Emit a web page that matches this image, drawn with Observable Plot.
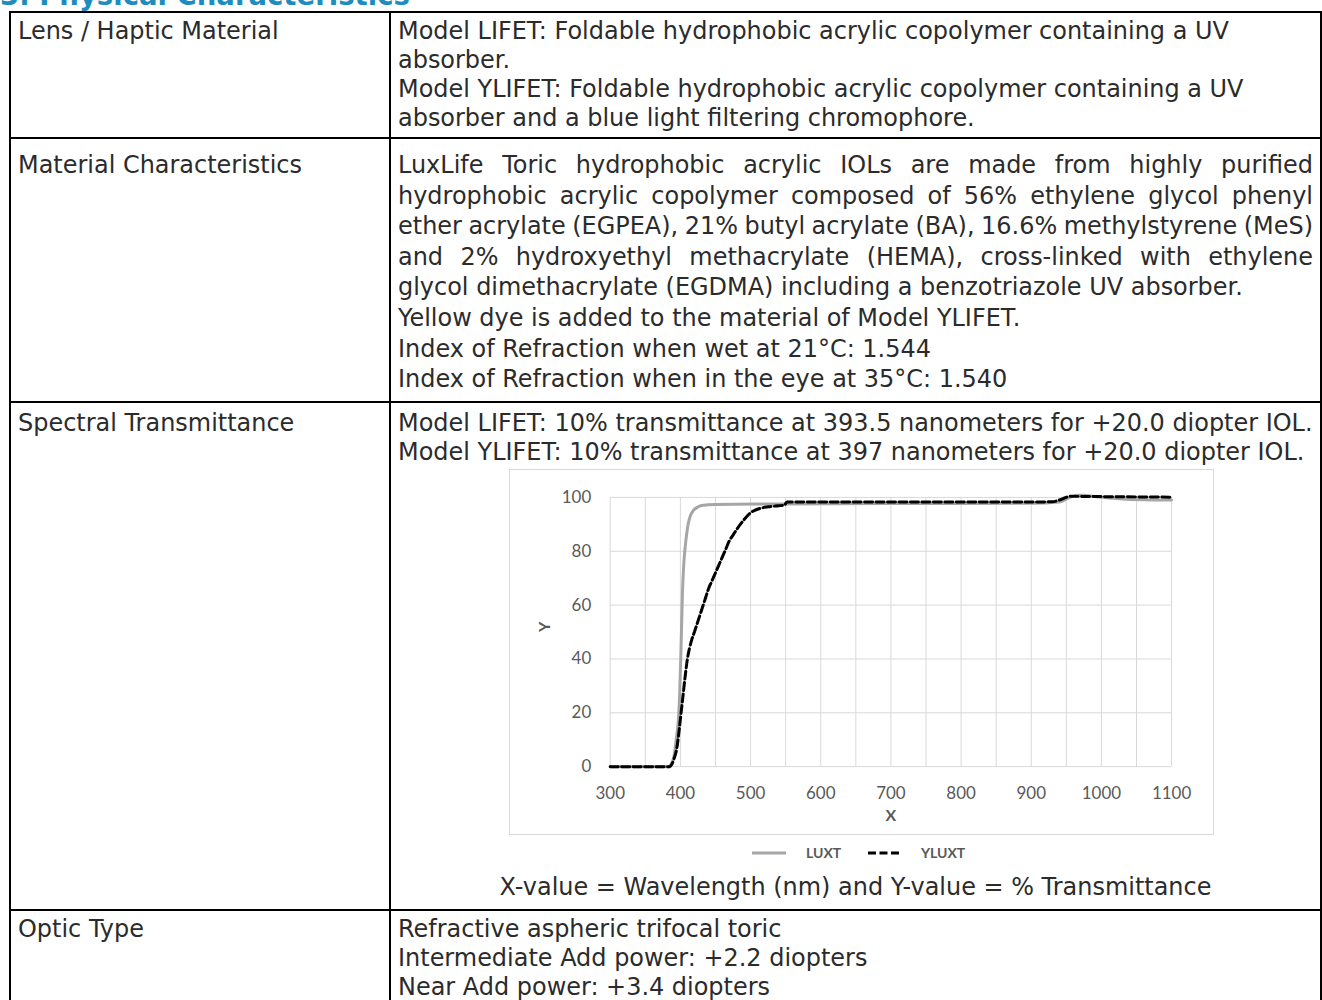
<!DOCTYPE html>
<html>
<head>
<meta charset="utf-8">
<script src="https://cdn.jsdelivr.net/npm/d3@7"></script>
<script src="https://cdn.jsdelivr.net/npm/@observablehq/plot@0.6"></script>
<style>
  html, body { margin: 0; padding: 0; background: #fff; }
  #page { position: relative; width: 1322px; height: 1000px; overflow: hidden; background: #fff; font-family: "DejaVu Sans", sans-serif; color: #2b2b2b; }
  .ln { position: absolute; white-space: nowrap; }
  .rule { position: absolute; background: #000; }
  #chartbox { position: absolute; left: 509px; top: 469px; width: 705px; height: 366px; box-sizing: border-box; border: 1px solid #d9d9d9; }
  #chartbox svg { position: absolute; left: -1px; top: -1px; }
  #legend { position: absolute; left: 0; top: 843px; width: 1322px; height: 20px; font-family: Lato, sans-serif; font-size: 14px; color: #595959; }
</style>
</head>
<body>
<div id="page"></div>
<script>
// ---------- data ----------
const titleText = "3. Physical Characteristics";
const rowLabels = ["Lens / Haptic Material", "Material Characteristics", "Spectral Transmittance", "Optic Type"];
const row1Lines = [
  "Model LIFET: Foldable hydrophobic acrylic copolymer containing a UV",
  "absorber.",
  "Model YLIFET: Foldable hydrophobic acrylic copolymer containing a UV",
  "absorber and a blue light filtering chromophore."
];
const row2Lines = [
  "LuxLife Toric hydrophobic acrylic IOLs are made from highly purified",
  "hydrophobic acrylic copolymer composed of 56% ethylene glycol phenyl",
  "ether acrylate (EGPEA), 21% butyl acrylate (BA), 16.6% methylstyrene (MeS)",
  "and 2% hydroxyethyl methacrylate (HEMA), cross-linked with ethylene",
  "glycol dimethacrylate (EGDMA) including a benzotriazole UV absorber.",
  "Yellow dye is added to the material of Model YLIFET.",
  "Index of Refraction when wet at 21°C: 1.544",
  "Index of Refraction when in the eye at 35°C: 1.540"
];
const row2Justified = [true, true, true, true, false, false, false, false];
const row3Lines = [
  "Model LIFET: 10% transmittance at 393.5 nanometers for +20.0 diopter IOL.",
  "Model YLIFET: 10% transmittance at 397 nanometers for +20.0 diopter IOL."
];
const captionText = "X-value = Wavelength (nm) and Y-value = % Transmittance";
const row4Lines = [
  "Refractive aspheric trifocal toric",
  "Intermediate Add power: +2.2 diopters",
  "Near Add power: +3.4 diopters"
];

const seriesNames = ["LUXT", "YLUXT"];
const wavelengthLUXT = [300, 383, 388, 391, 394, 397, 399, 401, 403, 405, 407, 409, 411, 414, 418, 424, 430, 450, 550, 700, 900, 940, 955, 965, 975, 990, 1020, 1060, 1100];
const transLUXT      = [0, 0, 1.5, 4, 10, 17, 27, 45, 65, 76, 82, 86.5, 90, 93, 95, 96.3, 97, 97.4, 97.6, 97.7, 97.8, 98.3, 100, 100.8, 100.8, 100.3, 99.6, 99.1, 99];
const wavelengthYLUXT = [300, 385, 388, 391, 395, 398, 401, 404, 407, 410, 413, 416, 420, 425, 430, 435, 440, 445, 450, 455, 460, 465, 470, 475, 480, 490, 500, 512, 525, 540, 548, 552, 600, 700, 800, 900, 930, 945, 955, 1000, 1050, 1100];
const transYLUXT      = [0, 0, 1, 3, 7, 13, 20, 27, 34, 40, 44, 47, 50, 54, 58, 62, 66, 69, 72, 75, 78, 81, 84, 86, 88, 91.5, 94.3, 95.8, 96.5, 96.9, 97.1, 98.3, 98.3, 98.3, 98.3, 98.3, 98.4, 99.5, 100.4, 100.3, 100.2, 100.1];
const xTicks = [300, 400, 500, 600, 700, 800, 900, 1000, 1100];
const xGrid = [300, 350, 400, 450, 500, 550, 600, 650, 700, 750, 800, 850, 900, 950, 1000, 1050, 1100];
const yTicks = [0, 20, 40, 60, 80, 100];

// ---------- layout ----------
const page = document.getElementById("page");
const FONT = "'DejaVu Sans'";
const ctx = document.createElement("canvas").getContext("2d");
function measure(t, size, weight) { ctx.font = `${weight || "normal"} ${size}px ${FONT}`; return ctx.measureText(t).width; }
const fs = 100 * 915 / measure(row3Lines[0], 100);
const titleFs = 100 * 410 / measure(titleText, 100, "bold");
const LH = 26;

function addLine(text, x, cy, opts = {}) {
  const d = document.createElement("div");
  d.className = "ln";
  d.textContent = text;
  const size = opts.size || fs;
  d.style.fontSize = size + "px";
  d.style.lineHeight = LH + "px";
  d.style.height = LH + "px";
  d.style.top = (cy - LH / 2) + "px";
  if (opts.center) { d.style.left = opts.left + "px"; d.style.width = opts.width + "px"; d.style.textAlign = "center"; }
  else d.style.left = x + "px";
  if (opts.color) d.style.color = opts.color;
  if (opts.weight) d.style.fontWeight = opts.weight;
  if (opts.justify) {
    const natural = measure(text, size);
    const gaps = text.split(" ").length - 1;
    if (gaps > 0) d.style.wordSpacing = ((opts.justify - natural) / gaps) + "px";
  }
  page.appendChild(d);
  return d;
}
function rule(x, y, w, h) {
  const r = document.createElement("div");
  r.className = "rule";
  Object.assign(r.style, { left: x + "px", top: y + "px", width: w + "px", height: h + "px" });
  page.appendChild(r);
}

// title (cut off by top edge)
addLine(titleText, 0, -5, { size: titleFs, color: "#1E8DBE", weight: "bold" });

// table rules
const LX = 10, CX = 389, RX = 1320;
const rowTops = [12, 138, 402, 910];
rowTops.forEach(y => rule(LX, y - 1, RX - LX + 2, 2));
rule(LX - 1, 11, 2, 1000);
rule(CX, 11, 2, 1000);
rule(RX, 11, 2, 1000);

const TX_L = 18, TX_R = 398;
// row 1
addLine(rowLabels[0], TX_L, 31);
row1Lines.forEach((t, i) => addLine(t, TX_R, 31 + i * 29));
// row 2
addLine(rowLabels[1], TX_L, 165);
row2Lines.forEach((t, i) => addLine(t, TX_R, 165 + i * 30.6, row2Justified[i] ? { justify: 915 } : {}));
// row 3
addLine(rowLabels[2], TX_L, 423);
row3Lines.forEach((t, i) => addLine(t, TX_R, 423 + i * 29));
addLine(captionText, 0, 887, { center: true, left: CX + 2, width: RX - CX - 2 });
// row 4
addLine(rowLabels[3], TX_L, 929);
row4Lines.forEach((t, i) => addLine(t, TX_R, 929 + i * 29));

// ---------- chart ----------
const luxt = wavelengthLUXT.map((w, i) => ({ x: w, y: transLUXT[i] }));
const yluxt = wavelengthYLUXT.map((w, i) => ({ x: w, y: transYLUXT[i] }));

const box = document.createElement("div");
box.id = "chartbox";
page.appendChild(box);

const chart = Plot.plot({
  width: 705, height: 366,
  marginLeft: 101, marginRight: 41, marginTop: 28, marginBottom: 68,
  x: { domain: [300, 1100] },
  y: { domain: [0, 100] },
  style: { fontFamily: "Lato, sans-serif", fontSize: "17px", color: "#595959", background: "transparent", overflow: "visible" },
  marks: [
    Plot.gridX(xGrid, { stroke: "#d9d9d9", strokeOpacity: 1, strokeWidth: 1 }),
    Plot.gridY(yTicks, { stroke: "#d9d9d9", strokeOpacity: 1, strokeWidth: 1 }),
    Plot.axisX(xTicks, { tickSize: 0, tickPadding: 20, label: null, fill: "#595959", tickFormat: d => String(d), fontSize: 17 }),
    Plot.axisY(yTicks, { tickSize: 0, tickPadding: 19, label: null, fill: "#595959", tickFormat: d => String(d), fontSize: 17 }),
    Plot.line(luxt, { x: "x", y: "y", stroke: "#a6a6a6", strokeWidth: 3, curve: "monotone-x" }),
    Plot.line(yluxt, { x: "x", y: "y", stroke: "#000", strokeWidth: 3, strokeDasharray: "8,3.5", curve: "monotone-x" }),
    Plot.text(["Y"], { frameAnchor: "left", dx: -66, rotate: -90, fontWeight: "bold", fill: "#595959", fontSize: 16 }),
    Plot.text(["X"], { frameAnchor: "bottom", dy: 55, fontWeight: "bold", fill: "#595959", fontSize: 16 })
  ]
});
box.appendChild(chart);

// legend
const legend = document.createElement("div");
legend.id = "legend";
legend.innerHTML = `
  <svg width="36" height="20" style="position:absolute;left:751px;top:0"><line x1="1" x2="35" y1="10" y2="10" stroke="#a6a6a6" stroke-width="3"/></svg>
  <span style="position:absolute;left:806px;top:0;line-height:20px;font-weight:bold">${seriesNames[0]}</span>
  <svg width="34" height="20" style="position:absolute;left:867px;top:0"><line x1="1" x2="33" y1="10" y2="10" stroke="#000" stroke-width="3" stroke-dasharray="8,3.5"/></svg>
  <span style="position:absolute;left:921px;top:0;line-height:20px;font-weight:bold">${seriesNames[1]}</span>`;
page.appendChild(legend);
</script>
</body>
</html>
